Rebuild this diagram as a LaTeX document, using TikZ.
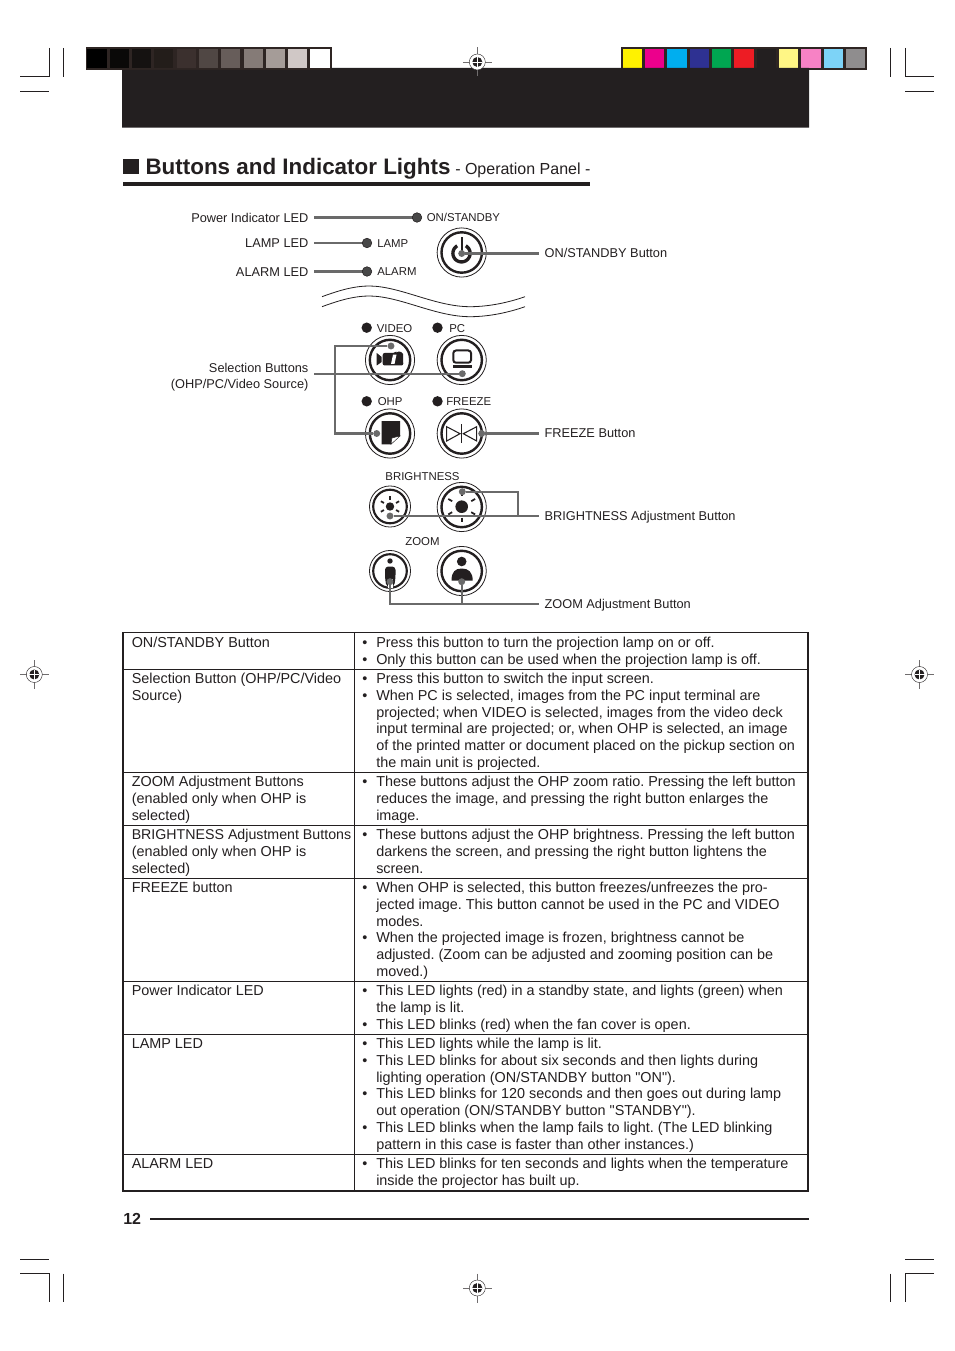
\documentclass[tikz,border=0pt]{standalone}
\usepackage{fontspec}
\setmainfont{Liberation Sans}[Ligatures=TeXOff]
\definecolor{ink}{HTML}{231F20}
\definecolor{barbg}{HTML}{2E2523}
\definecolor{conn}{HTML}{6A6A6A}
\definecolor{led}{HTML}{484848}
\newcommand{\bl}{\llap{•\hspace{6.7pt}}}
\newcommand{\fs}{\rule{0pt}{10pt}}
\newcommand{\regm}[3]{%
  \node[regdisc] (#1) at (#2,#3) {};
  \draw[regcross] (#2-14.5,#3) -- (#2+14.5,#3);
  \draw[regcross] (#2,#3-14.5) -- (#2,#3+14.5);
  \draw[ink,line width=0.3pt,fill=white] (#2,#3) circle (8);
  \fill[ink] (#2,#3) circle (5);
  \draw[white,line width=0.6pt] (#2-5,#3) -- (#2+5,#3) (#2,#3-5) -- (#2,#3+5);
}
\newcommand{\bigbtn}[3]{%
  \node[btnouter,minimum size=36.9pt] (#1) at (#2,#3) {};
  \draw[ink,line width=1.8pt] (#2,#3) circle (20.2);
}
\newcommand{\smallbtn}[3]{%
  \node[btnouter,minimum size=30.8pt] (#1) at (#2,#3) {};
  \draw[ink,line width=1.6pt] (#2,#3) circle (16.8);
}
\newcommand{\sun}[5]{% x y core inner outer
  \fill[ink] (#1,#2) circle (#3);
  \foreach \a in {90,30,150,210,330,270}
    \draw[ink,line width=1.3pt] ({#1+#4*cos(\a)},{#2-#4*sin(\a)}) -- ({#1+#5*cos(\a)},{#2-#5*sin(\a)});
}
\tikzset{
  regdisc/.style={circle,inner sep=0,minimum size=1pt},
  regcross/.style={draw=ink!65,line width=0.35pt},
  btnouter/.style={circle,draw=ink,line width=0.6pt,inner sep=0,fill=white},
  conline/.style={draw=conn,line width=1.7pt},
  gdot/.style={circle,fill=conn,inner sep=0,minimum size=5.2pt},
  ledg/.style={circle,draw=ink,line width=0.4pt,fill=led,inner sep=0,minimum size=7.2pt},
  ledk/.style={circle,fill=ink,inner sep=0,minimum size=7.8pt},
  lab/.style={inner xsep=4pt,inner ysep=0,text height=8.5pt,text depth=1.5pt,text=ink,font=\fontsize{9.58}{11.9}\selectfont},
  smalllab/.style={anchor=west,inner sep=0,text height=7.6pt,text depth=1.4pt,text=ink,font=\fontsize{8.55}{10}\selectfont},
  cell/.style={anchor=north west,inner sep=0,align=left,text=ink,font=\fontsize{10.8}{12.6}\selectfont\frenchspacing},
  crop/.style={draw=ink,line width=0.6pt},
  rowline/.style={draw=ink,line width=0.6pt},
}
\begin{document}
\begin{tikzpicture}[x=0.75pt,y=-0.75pt]
\useasboundingbox (0,0) rectangle (954,1351);
% colour bars
\fill[barbg] (86,47) rectangle (331.5,70);
\fill[barbg] (621,47) rectangle (867,70);
\foreach \xa/\xb/\c in {86.7/107.3/000000,110/129/0A0908,132/151/151211,154/173/231D1A,177/196/3B302E,199/218/504744,221/240/675D5A,243.7/262.7/857B77,266/285/A59C98,288/307/D0C8C6,310/330/FFFFFF}{
  \definecolor{sw}{HTML}{\c}\fill[sw] (\xa,49) rectangle (\xb,68);}
\foreach \xa/\xb/\c in {623/642/FFF200,645/664/EC008C,667/687/00AEEF,690/709/2E3192,712/731/00A651,734/754/ED1C24,757/776/231F20,779/798/FFF685,801/821/F782C5,824/843/7DD3F7,846/865/8F8D8E}{
  \definecolor{sw}{HTML}{\c}\fill[sw] (\xa,49) rectangle (\xb,68);}
\fill[ink] (331,68) rectangle (809,127.7) (122,70) rectangle (331.5,127.7);
% crop marks
\draw[crop] (49.3,48) -- (49.3,76.5) -- (20,76.5);
\draw[crop] (63.5,48) -- (63.5,76.7);
\draw[crop] (20,91.4) -- (49,91.4);
\draw[crop] (890.3,48) -- (890.3,76.7);
\draw[crop] (905.3,48) -- (905.3,76.5) -- (934,76.5);
\draw[crop] (905,91.4) -- (934,91.4);
\draw[crop] (20,1259) -- (49,1259);
\draw[crop] (20,1273.5) -- (49.3,1273.5) -- (49.3,1302);
\draw[crop] (63.5,1273.5) -- (63.5,1302);
\draw[crop] (905,1259) -- (934,1259);
\draw[crop] (934,1273.5) -- (905.3,1273.5) -- (905.3,1302);
\draw[crop] (890.3,1273.5) -- (890.3,1302);
% registration marks
\regm{regtop}{477.3}{62}
\regm{regbot}{477.3}{1288}
\regm{regl}{34.3}{674.5}
\regm{regr}{919.5}{674.5}
% title
\fill[ink] (123.3,159) rectangle (139,174);
\node[anchor=base west,inner sep=0,text=ink,font=\fontsize{16.8}{20}\selectfont\bfseries] (title) at (145.3,175) {Buttons and Indicator Lights};
\node[anchor=base west,inner sep=0,text=ink,font=\fontsize{12}{14}\selectfont] (subtitle) at (455,175) {- Operation Panel -};
\fill[ink] (123,182) rectangle (590,186);
% wavy break
\draw[ink,line width=0.6pt] (322,296.7) .. controls (340,290) and (355,286) .. (369,286) .. controls (400,286) and (435,306.7) .. (470,306.7) .. controls (490,306.7) and (510,302) .. (525,296.7);
\draw[ink,line width=0.6pt] (322,306.7) .. controls (340,300) and (355,296) .. (369,296) .. controls (400,296) and (435,316.7) .. (470,316.7) .. controls (490,316.7) and (510,312) .. (525,306.7);
% buttons
\bigbtn{bpower}{461.7}{252.5}
\bigbtn{bvideo}{390}{360}
\bigbtn{bpc}{461.7}{360}
\bigbtn{bohp}{390}{433.5}
\bigbtn{bfreeze}{461.7}{433.5}
\smallbtn{bbrs}{390}{506.5}
\bigbtn{bbrl}{461.7}{507}
\smallbtn{bzms}{390}{571}
\bigbtn{bzml}{461.7}{571}
% power icon
\draw[ink,line width=2.5pt] plot[domain=-240:60,samples=50] ({461.5+8.6*cos(\x)},{253.3-8.6*sin(\x)});
\draw[ink,line width=1.5pt] (461.5,237.5) -- (461.5,252.5);
% video icon
\fill[ink] (376.7,353) -- (381.7,357) -- (381.7,362) -- (376.7,365.5) -- cycle;
\fill[ink,rounded corners=1.5pt] (382.7,353) -- (395,353) -- (396.5,351.5) -- (403,352) -- (403.3,365.5) -- (382.7,365.5) -- cycle;
\fill[white] (391,364) -- (394.5,364) -- (396.5,354.7) -- (393,354.7) -- cycle;
% pc icon
\draw[ink,line width=1.5pt,rounded corners=2pt] (453.3,350.5) rectangle (471,362.7);
\fill[ink] (452.7,365) rectangle (471.7,368);
% ohp icon
\fill[ink] (381.7,421) -- (400,421) -- (400,436) -- (391,444.3) -- (381.7,444.3) -- cycle;
\filldraw[draw=ink,fill=white,line width=0.3pt] (391,444.3) -- (400,436) -- (392,438) -- cycle;
% freeze icon
\draw[ink,line width=0.8pt] (446.7,426.7) -- (446.7,441) -- (460,433.7) -- cycle;
\draw[ink,line width=0.8pt] (476.7,426.7) -- (476.7,441) -- (463.3,433.7) -- cycle;
\draw[ink,line width=0.8pt] (461.7,424) -- (461.7,443);
% brightness icons
\sun{390}{506.5}{4.2}{7}{10.5}
\sun{461.7}{506.7}{6.3}{11}{15.5}
% zoom icons
\fill[ink] (390,561) circle (2.7);
\fill[ink,rounded corners=2.5pt] (385,578) -- (385,566.5) -- (395.5,566.5) -- (395.5,578) -- (394,587) -- (386.5,587) -- cycle;
\fill[white] (387.5,579) rectangle (393,587.5);
\fill[ink] (461.7,561.5) circle (4.8);
\fill[ink] (451.5,580.7) .. controls (451.5,572) and (455,568.5) .. (461.7,568.5) .. controls (468.5,568.5) and (472.7,572) .. (472.7,580.7) -- cycle;
% LED labels
\node[smalllab] (ton) at (426.5,217.8) {ON/STANDBY};
\node[smalllab] (tlamp) at (377,243) {LAMP};
\node[smalllab] (talarm) at (377,271.5) {ALARM};
\node[smalllab] (tvideo) at (376.5,328) {VIDEO};
\node[smalllab] (tpc) at (449,328) {PC};
\node[smalllab] (tohp) at (377.5,401.3) {OHP};
\node[smalllab] (tfreeze) at (446,401.3) {FREEZE};
\node[smalllab,anchor=center] (tbright) at (422.5,476) {BRIGHTNESS};
\node[smalllab,anchor=center] (tzoom) at (422.5,541) {ZOOM};
% callout labels
\node[lab,anchor=east] (lblpower) at (314,217.5) {Power Indicator LED};
\node[lab,anchor=east] (lbllamp) at (314,243) {LAMP LED};
\node[lab,anchor=east] (lblalarm) at (314,271.5) {ALARM LED};
\node[lab,anchor=east,align=right,text height=,text depth=] (lblsel) at (314,377) {Selection Buttons\\(OHP/PC/Video Source)};
\node[lab,anchor=west] (lblstandby) at (539,253) {ON/STANDBY Button};
\node[lab,anchor=west] (lblfreeze) at (539,433) {FREEZE Button};
\node[lab,anchor=west] (lblbright) at (539,516) {BRIGHTNESS Adjustment Button};
\node[lab,anchor=west] (lblzoom) at (539,604) {ZOOM Adjustment Button};
% connector dots
\coordinate (conpower) at (417,217.5);
\coordinate (conlamp) at (367,243);
\coordinate (conalarm) at (367,271.5);
\node[gdot] (dpower) at (461.7,253.5) {};
\node[gdot] (dvideo) at (391,346) {};
\node[gdot] (dpc) at (462.3,373.7) {};
\node[gdot] (dohp) at (376.7,433.5) {};
\node[gdot] (dfreeze) at (481.7,433.5) {};
\node[gdot] (dbrs) at (390,516) {};
\node[gdot] (dbrl) at (462.3,491.7) {};
\node[gdot] (dzms) at (390,581.7) {};
\node[gdot] (dzml) at (461.7,581.7) {};
\coordinate (seltop) at (335,346);
\coordinate (selbot) at (335,433.5);
\coordinate (brbend) at (518,491.7);
\coordinate (zmbend) at (390,604);
\coordinate (zmjoin) at (461.7,604);
% connectors
\draw[conline] (lblpower.east) -- (conpower);
\draw[conline] (lbllamp.east) -- (conlamp);
\draw[conline] (lblalarm.east) -- (conalarm);
\draw[conline] (dpower) -- (dpower -| lblstandby.west);
\draw[conline] (lblsel.east |- dpc) -- (dpc);
\draw[conline] (dvideo) -- (seltop) -- (selbot) -- (dohp);
\draw[conline] (dfreeze) -- (dfreeze -| lblfreeze.west);
\draw[conline] (dbrs) -- (dbrs -| lblbright.west);
\draw[conline,line width=1.2pt] (dbrl) -- (brbend) -- (brbend |- dbrs);
\draw[conline] (dzms) -- (zmbend) -- (lblzoom.west);
\draw[conline] (dzml) -- (zmjoin);
% LEDs
\node[ledg] (lon) at (417,217.5) {};
\node[ledg] (llamp) at (367,243) {};
\node[ledg] (lalarm) at (367,271.5) {};
\node[ledk] (lvideo) at (366.7,327.7) {};
\node[ledk] (lpc) at (437.5,327.7) {};
\node[ledk] (lohp) at (366.7,401.3) {};
\node[ledk] (lfreeze) at (437.5,401.3) {};
% table
\draw[rowline] (123,669.5) -- (808,669.5);
\draw[rowline] (123,772.5) -- (808,772.5);
\draw[rowline] (123,825.5) -- (808,825.5);
\draw[rowline] (123,878.5) -- (808,878.5);
\draw[rowline] (123,981.5) -- (808,981.5);
\draw[rowline] (123,1034.5) -- (808,1034.5);
\draw[rowline] (123,1154.5) -- (808,1154.5);
\draw[rowline] (354.5,632.5) -- (354.5,1191);
\draw[ink,line width=1.1pt] (123,632.5) rectangle (808,1191);
\node[cell] (c1a) at (131.5,633.7) {\fs ON/STANDBY Button};
\node[cell] (c1b) at (376,633.7) {\fs\bl Press this button to turn the projection lamp on or off.\\\bl Only this button can be used when the projection lamp is off.};
\node[cell] (c2a) at (131.5,669.8) {\fs Selection Button (OHP/PC/Video\\Source)};
\node[cell] (c2b) at (376,669.8) {\fs\bl Press this button to switch the input screen.\\\bl When PC is selected, images from the PC input terminal are\\projected; when VIDEO is selected, images from the video deck\\input terminal are projected; or, when OHP is selected, an image\\of the printed matter or document placed on the pickup section on\\the main unit is projected.};
\node[cell] (c3a) at (131.5,772.8) {\fs ZOOM Adjustment Buttons\\(enabled only when OHP is\\selected)};
\node[cell] (c3b) at (376,772.8) {\fs\bl These buttons adjust the OHP zoom ratio. Pressing the left button\\reduces the image, and pressing the right button enlarges the\\image.};
\node[cell] (c4a) at (131.5,825.8) {\fs{\fontsize{10.65}{12.6}\selectfont BRIGHTNESS Adjustment Buttons}\\(enabled only when OHP is\\selected)};
\node[cell] (c4b) at (376,825.8) {\fs\bl These buttons adjust the OHP brightness. Pressing the left button\\darkens the screen, and pressing the right button lightens the\\screen.};
\node[cell] (c5a) at (131.5,878.8) {\fs FREEZE button};
\node[cell] (c5b) at (376,878.8) {\fs\bl When OHP is selected, this button freezes/unfreezes the pro-\\jected image. This button cannot be used in the PC and VIDEO\\modes.\\\bl When the projected image is frozen, brightness cannot be\\adjusted. (Zoom can be adjusted and zooming position can be\\moved.)};
\node[cell] (c6a) at (131.5,981.8) {\fs Power Indicator LED};
\node[cell] (c6b) at (376,981.8) {\fs\bl This LED lights (red) in a standby state, and lights (green) when\\the lamp is lit.\\\bl This LED blinks (red) when the fan cover is open.};
\node[cell] (c7a) at (131.5,1034.8) {\fs LAMP LED};
\node[cell] (c7b) at (376,1034.8) {\fs\bl This LED lights while the lamp is lit.\\\bl This LED blinks for about six seconds and then lights during\\lighting operation (ON/STANDBY button "ON").\\\bl This LED blinks for 120 seconds and then goes out during lamp\\out operation (ON/STANDBY button "STANDBY").\\\bl This LED blinks when the lamp fails to light. (The LED blinking\\pattern in this case is faster than other instances.)};
\node[cell] (c8a) at (131.5,1154.8) {\fs ALARM LED};
\node[cell] (c8b) at (376,1154.8) {\fs\bl This LED blinks for ten seconds and lights when the temperature\\inside the projector has built up.};
% page number
\node[anchor=base west,inner sep=0,text=ink,font=\fontsize{12}{14}\selectfont\bfseries] (pageno) at (123,1224) {12};
\fill[ink] (150,1217.5) rectangle (809,1219.7);
\end{tikzpicture}
\end{document}
